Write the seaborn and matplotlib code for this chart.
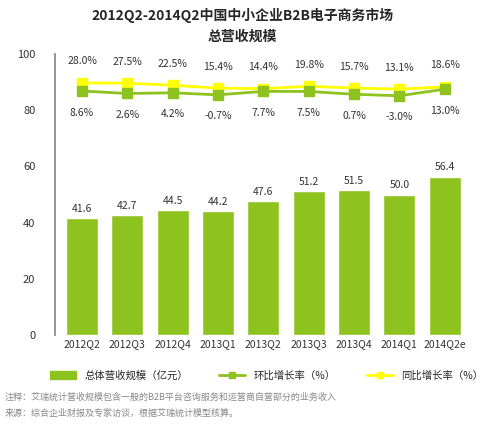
import matplotlib
matplotlib.use("Agg")
import matplotlib.pyplot as plt
import seaborn as sns
import pandas as pd
from matplotlib.lines import Line2D
from matplotlib.patches import Patch

sns.set_theme(style="white")
plt.rcParams['font.family'] = ['Noto Sans CJK SC', 'DejaVu Sans']

quarters = ["2012Q2","2012Q3","2012Q4","2013Q1","2013Q2","2013Q3","2013Q4","2014Q1","2014Q2e"]
revenue = [41.6,42.7,44.5,44.2,47.6,51.2,51.5,50.0,56.4]
qoq = [8.6,2.6,4.2,-0.7,7.7,7.5,0.7,-3.0,13.0]
yoy = [28.0,27.5,22.5,15.4,14.4,19.8,15.7,13.1,18.6]

GREEN = "#8dc21f"
YELLOW = "#ffff00"

fig = plt.figure(figsize=(4.85,4.29), dpi=100)
ax = fig.add_axes([0.113,0.219,0.86,0.655])
df = pd.DataFrame({"q":quarters,"rev":revenue})
sns.barplot(data=df, x="q", y="rev", color=GREEN, saturation=1, width=0.7, ax=ax)
for i,v in enumerate(revenue):
    ax.text(i, v+1.5, f"{v:.1f}", ha="center", va="bottom", fontsize=7.5, color="#333333")
ax.set_ylim(0,100)
ax.set_yticks([0,20,40,60,80,100])
ax.tick_params(axis="y", labelsize=8, colors="#333333", length=0, pad=14)
ax.tick_params(axis="x", labelsize=7.5, colors="#333333", length=0, pad=3)
ax.set_xlabel(""); ax.set_ylabel("")
for s in ["top","right","bottom"]:
    ax.spines[s].set_visible(False)
ax.spines["left"].set_color("#888888")
ax.set_xlim(-0.6,8.6)

ax2 = ax.twinx()
ax2.set_ylim(-582,98)
x = list(range(len(quarters)))
ax2.plot(x, yoy, color=YELLOW, lw=2, marker="s", ms=7, zorder=3)
ax2.plot(x, qoq, color=GREEN, lw=2, marker="s", ms=7, zorder=4)
for i in x:
    ax2.text(i, yoy[i]+40, f"{yoy[i]:.1f}%", ha="center", va="bottom", fontsize=7.5, color="#333333")
    ax2.text(i, qoq[i]-40, f"{qoq[i]:.1f}%", ha="center", va="top", fontsize=7.5, color="#333333")
ax2.axis("off")

fig.text(0.5,0.965,"2012Q2-2014Q2中国中小企业B2B电子商务市场", ha="center", va="center", fontsize=10, fontweight="bold")
fig.text(0.5,0.915,"总营收规模", ha="center", va="center", fontsize=10, fontweight="bold")

handles = [Patch(color=GREEN),
           Line2D([0],[0],color=GREEN,lw=2,marker="s",ms=5),
           Line2D([0],[0],color=YELLOW,lw=2,marker="s",ms=5)]
fig.legend(handles, ["总体营收规模（亿元）","环比增长率（%）","同比增长率（%）"], loc="center",
           bbox_to_anchor=(0.55,0.125), ncol=3, frameon=False, fontsize=7.5, handlelength=2.5,
           columnspacing=3)
fig.text(0.01,0.068,"注释：艾瑞统计营收规模包含一般的B2B平台咨询服务和运营商自营部分的业务收入", fontsize=6.5, color="#888888")
fig.text(0.01,0.03,"来源：综合企业财报及专家访谈，根据艾瑞统计模型核算。", fontsize=6.5, color="#888888")
fig.savefig("out.png", dpi=100, facecolor="white")
